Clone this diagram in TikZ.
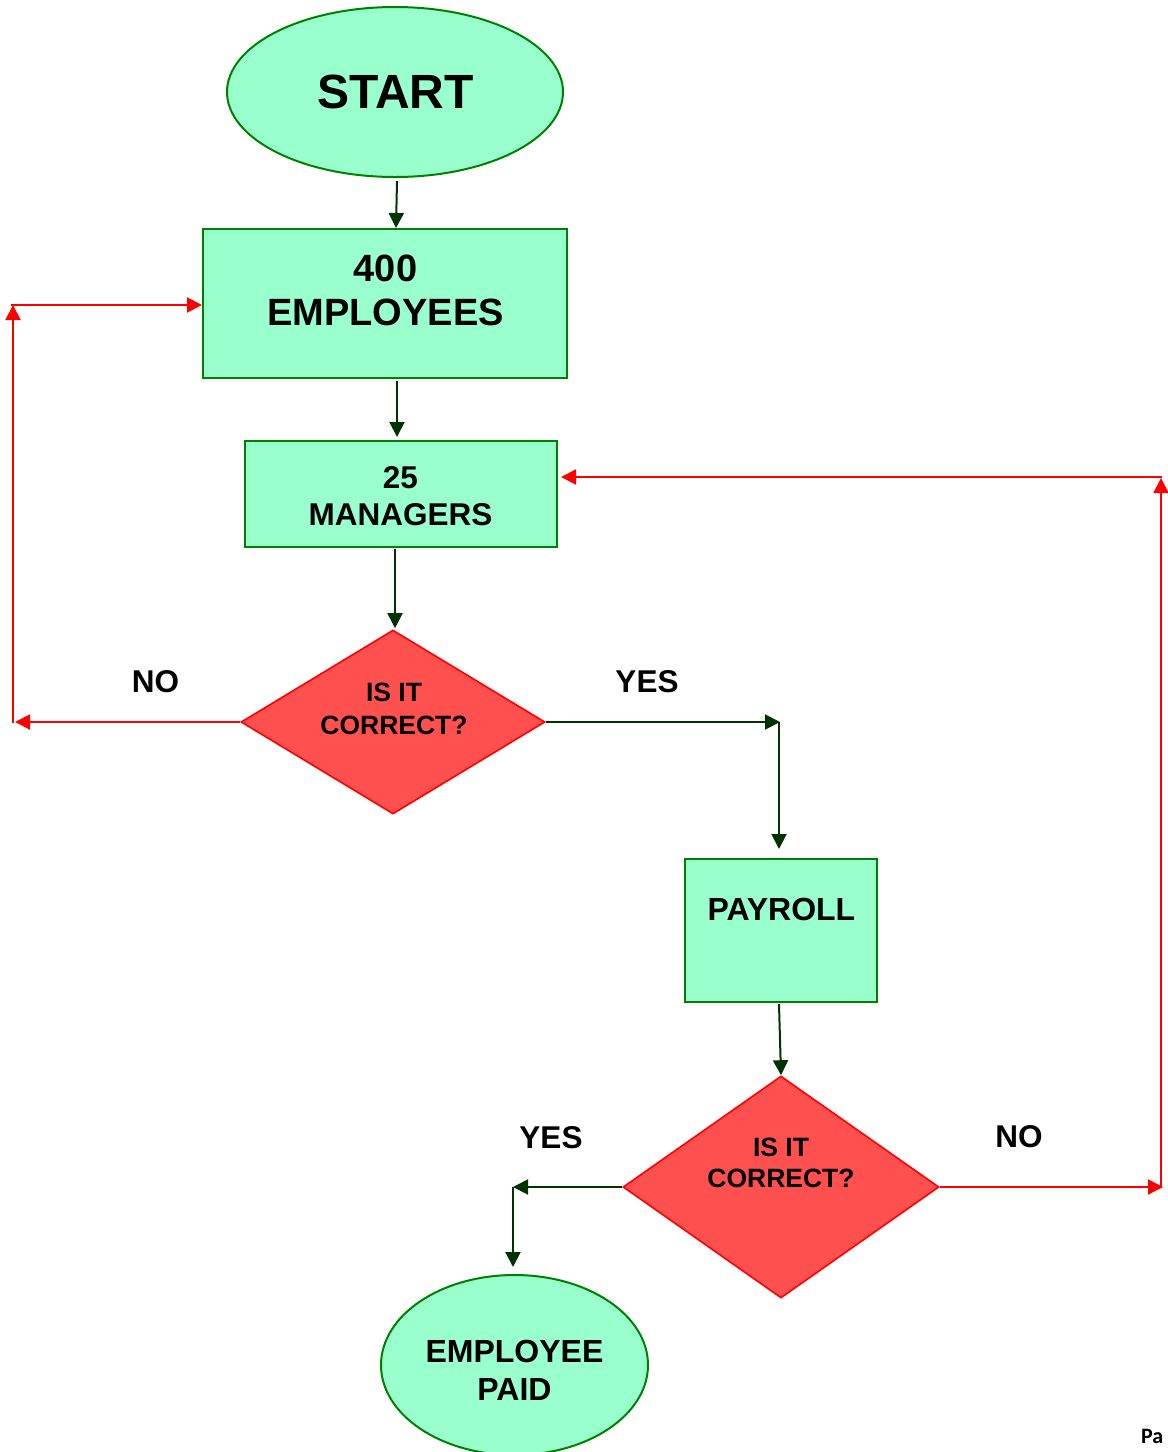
\documentclass[tikz,border=0pt]{standalone}
\usepackage{fontspec}
\setmainfont{Liberation Sans}
\newfontfamily\calibfont{Carlito}
\usetikzlibrary{shapes.geometric,arrows.meta,calc}
\definecolor{mint}{HTML}{99FFCC}
\definecolor{boxgreen}{HTML}{008000}
\definecolor{diared}{HTML}{FF5050}
\definecolor{linegreen}{HTML}{003300}
\definecolor{linered}{HTML}{FF0000}
\newcommand\fsz[2]{\fontsize{#1}{#2}\selectfont}
\begin{document}
\begin{tikzpicture}[x=1pt,y=-1pt,
  greenshape/.style={draw=boxgreen, fill=mint, line width=2pt, inner sep=0pt},
  boxnode/.style={greenshape, rectangle},
  ellnode/.style={greenshape, ellipse},
  dianode/.style={diamond, draw=linered, fill=diared, line width=1.6pt, inner sep=0pt},
  txt/.style={align=center, inner sep=0pt, text=black},
  lbl/.style={inner sep=0pt, text=black, font=\bfseries\fsz{31.5}{36}},
  garrow/.style={draw=linegreen, line width=2pt, -{Triangle[length=15pt,width=15pt]}},
  rarrow/.style={draw=linered, line width=2pt, -{Triangle[length=15pt,width=15pt]}},
]
\useasboundingbox (0,0) rectangle (1168,1452);

% shapes
\node[ellnode, minimum width=336pt, minimum height=170pt] (st) at (395,92) {};
\node[boxnode, minimum width=364pt, minimum height=149pt] (b1) at (385,303.5) {};
\node[boxnode, minimum width=312pt, minimum height=106pt] (b2) at (401,494) {};
\node[dianode, minimum width=304pt, minimum height=184pt] (d1) at (393,722) {};
\node[boxnode, minimum width=192pt, minimum height=143pt] (pay) at (781,930.5) {};
\node[dianode, minimum width=316pt, minimum height=222pt] (d2) at (781,1187) {};
\node[ellnode, minimum width=267pt, minimum height=180pt] (pe) at (514.5,1365) {};

% texts
\node[txt, font=\bfseries\fsz{48}{56}] (stt) at (395.5,91.5) {START};
\node[txt, font=\bfseries\fsz{38}{44}] (b1t) at (385.5,290) {400\\EMPLOYEES};
\node[txt, font=\bfseries\fsz{31.5}{36.5}] (b2t) at (400.5,496) {25\\MANAGERS};
\node[txt, font=\bfseries\fsz{26.5}{33}] (d1t) at (394,709) {IS IT\\CORRECT?};
\node[txt, font=\bfseries\fsz{32}{36}] (payt) at (781.5,909.5) {PAYROLL};
\node[txt, font=\bfseries\fsz{26.5}{31}] (d2t) at (781,1162.5) {IS IT\\CORRECT?};
\node[txt, font=\bfseries\fsz{32}{38}] (pet) at (514.5,1370.5) {EMPLOYEE\\PAID};

% labels
\node[lbl] (no1) at (155.5,682) {NO};
\node[lbl] (yes1) at (647,682) {YES};
\node[lbl] (yes2) at (551,1138) {YES};
\node[lbl] (no2) at (1019,1137) {NO};
\node[anchor=base west, inner sep=0pt, font=\calibfont\bfseries\fsz{22}{26}] (pa) at (1141,1443) {Pa};

% green connectors
\draw[garrow] ([xshift=2pt,yshift=-3pt]st.south) -- ([xshift=11pt]b1.north);
\draw[garrow] ([xshift=12pt,yshift=-2pt]b1.south) -- ([xshift=-4pt,yshift=3pt]b2.north);
\draw[garrow] ([xshift=-6pt,yshift=-1pt]b2.south) -- ([xshift=2pt,yshift=1pt]d1.north);
\coordinate (y1) at (780,722);
\coordinate (y1b) at (779,722);
\draw[garrow] (d1.east) -- (y1);
\draw[garrow] (y1b) -- ([xshift=-2pt,yshift=9pt]pay.north);
\draw[garrow] ([xshift=-2pt,yshift=-1pt]pay.south) -- (d2.north);
\coordinate (y2) at (513,1187);
\draw[garrow] (d2.west) -- (y2);
\draw[garrow] (y2) -- ($(y2 |- pe.north)+(0,-7)$);

% red connectors
\coordinate (n1) at (15,722);
\coordinate (n1b) at (13,723);
\coordinate (n1c) at (13,305);
\coordinate (n1d) at (11,305);
\draw[rarrow] (d1.west) -- (n1);
\draw[rarrow] (n1b) -- (n1c);
\draw[rarrow] (n1d) -- (n1d -| b1.west);
\coordinate (n2) at (1163,1187);
\coordinate (n2b) at (1161,1187);
\coordinate (n2c) at (1161,478);
\coordinate (n2d) at (1162,477);
\draw[rarrow] (d2.east) -- (n2);
\draw[rarrow] (n2b) -- (n2c);
\draw[rarrow] (n2d) -- ($(n2d -| b2.east)+(3,0)$);
\end{tikzpicture}
\end{document}
